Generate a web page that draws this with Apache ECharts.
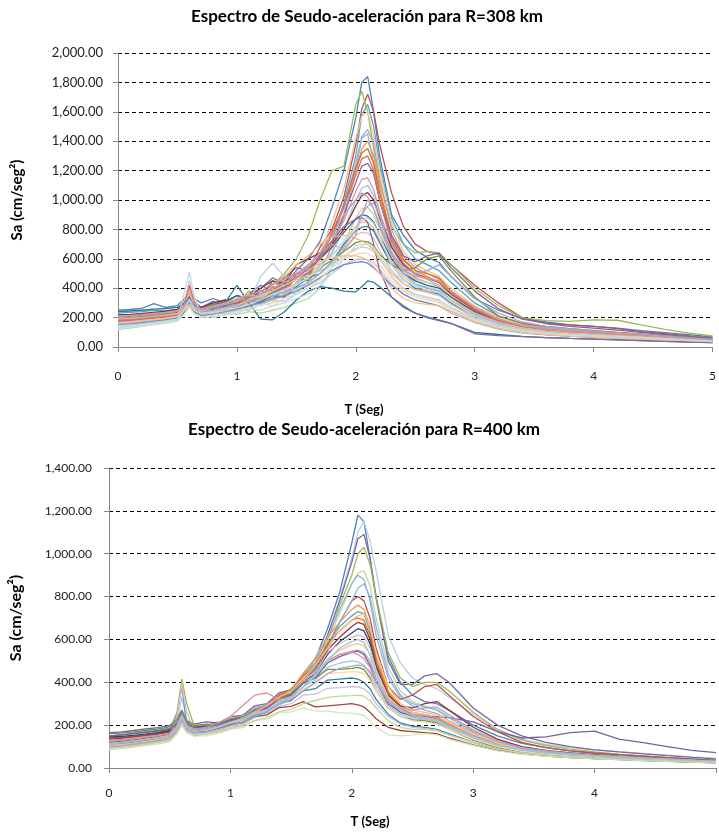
<!DOCTYPE html>
<html>
<head>
<meta charset="utf-8">
<script src="https://cdn.jsdelivr.net/npm/echarts@6/dist/echarts.min.js"></script>
<style>
html,body{margin:0;padding:0;background:#fff;}
#chart{width:719px;height:836px;}
</style>
</head>
<body>
<div id="chart"></div>
<script>
// Period values (s) shared by all records
const T = [0,0.1,0.2,0.3,0.4,0.5, 0.56,0.6,0.64,0.7, 0.8,0.9,1.0,1.1,1.2,1.3,1.4,1.5,1.6,1.7,1.8,1.9, 2.0,2.05,2.1,2.15,2.2, 2.3,2.4,2.5,2.6,2.7,2.8, 3.0,3.2,3.4,3.6,3.8,4.0,4.2,4.4,4.6,4.8,5.0];

// ---- R = 308 km ----
const r308a = [250,255,262,295,270,282, 330,400,330,300, 330,300,350,330,400,470,430,520,600,720,950,1200, 1560,1800,1840,1600,1300, 900,760,660,610,575,480, 330,250,195,170,150,140,128,112,98,84,68];
const r308b = [200,205,215,222,230,245, 290,340,300,270, 290,320,280,350,330,450,400,500,520,680,800,1020, 1380,1620,1720,1600,1380, 1050,820,700,650,630,560, 420,300,200,160,150,140,125,105,90,75,60];
const r308c = [180,185,200,210,220,240, 300,360,300,260, 260,310,300,380,340,420,500,600,760,1000,1200,1230, 1650,1740,1600,1350,1120, 820,700,640,650,640,560, 400,280,200,180,175,185,182,150,120,95,75];
const r308d = [230,235,240,250,248,255, 280,310,270,250, 300,260,330,300,380,360,440,400,520,610,720,980, 1300,1580,1650,1500,1250, 880,700,600,560,520,440, 300,210,160,130,115,105,95,85,75,62,52];
const r308e = [170,180,190,200,210,230, 300,380,290,240, 240,280,270,340,300,380,360,480,540,640,850,1080, 1420,1570,1600,1430,1200, 850,650,560,520,480,400, 280,200,160,140,125,115,100,90,80,68,56];
const r308f = [160,170,178,190,200,215, 290,420,300,240, 280,250,300,290,350,330,410,460,480,620,760,940, 1250,1430,1480,1380,1150, 800,620,540,500,460,380, 270,190,150,130,115,105,95,85,75,63,52];
const r308g = [150,158,165,175,185,200, 250,300,250,220, 230,270,250,300,360,320,350,440,500,520,680,880, 1180,1350,1400,1300,1080, 760,600,520,480,440,360, 250,180,140,120,105,95,85,75,65,55,45];
const r308h = [140,150,160,170,180,195, 300,450,320,230, 250,230,280,320,290,400,380,420,560,560,640,900, 1200,1420,1450,1250,1000, 700,560,490,460,420,340, 230,170,130,110,95,88,80,72,62,52,42];
const r308i = [190,195,205,215,225,235, 280,330,280,260, 270,300,290,330,310,370,450,480,470,630,780,960, 1220,1320,1350,1250,1050, 740,590,520,500,470,380, 260,180,140,120,105,95,85,75,66,56,47];
const r308j = [210,212,220,230,240,255, 320,380,310,270, 310,280,330,360,420,380,470,540,520,600,700,900, 1120,1230,1250,1180,1000, 760,620,580,620,640,540, 380,260,190,160,140,128,115,100,85,72,58];
const r308k = [165,172,182,192,200,212, 260,310,260,230, 260,240,300,280,330,400,360,480,560,620,720,860, 1060,1140,1150,1070,920, 680,540,470,440,410,340, 230,170,130,110,97,88,80,72,63,54,45];
const r308l = [145,152,162,172,182,198, 280,350,270,220, 220,260,240,310,280,330,380,360,450,560,640,800, 1000,1080,1100,1030,880, 650,520,450,420,390,320, 220,160,125,105,92,84,76,68,60,51,43];
const r308m = [220,222,228,236,244,255, 300,340,290,270, 300,320,290,350,400,450,430,560,600,640,700,800, 960,1030,1050,1000,880, 680,560,500,470,440,360, 250,175,135,115,100,90,80,72,63,54,45];
const r308n = [130,138,148,158,168,182, 240,290,240,210, 210,230,220,240,230,250,270,300,330,400,540,700, 880,940,950,900,800, 620,520,460,440,420,350, 240,170,130,110,96,86,78,70,61,52,43];
const r308o = [200,205,212,220,230,245, 290,320,290,260, 280,310,350,330,380,420,480,460,540,600,680,780, 870,900,890,850,760, 600,500,450,420,400,340, 240,170,135,115,100,90,80,72,63,54,45];
const r308p = [185,190,198,206,215,228, 300,410,300,250, 240,270,260,300,350,310,390,420,460,580,620,720, 820,850,845,810,730, 580,480,420,400,380,320, 225,165,128,108,95,86,78,70,61,52,44];
const r308q = [175,180,188,196,205,218, 260,300,250,230, 260,240,280,270,310,350,340,410,470,500,580,700, 790,815,820,790,710, 560,460,400,380,360,300, 210,150,120,100,88,80,72,65,57,49,41];
const r308r = [155,162,172,182,192,205, 290,380,280,230, 230,250,270,260,300,320,360,400,430,500,560,660, 760,780,775,740,660, 520,430,390,370,350,290, 200,150,118,100,88,80,72,65,57,49,41];
const r308s = [195,198,205,214,222,234, 280,320,270,250, 290,270,310,340,320,370,420,480,450,540,590,650, 710,720,715,690,630, 560,520,540,600,620,520, 340,210,160,140,125,112,100,88,76,64,52];
const r308t = [120,128,140,152,162,176, 230,280,230,200, 212,228,250,300,480,570,480,460,480,520,560,620, 670,680,675,650,600, 480,400,360,340,320,270, 190,140,110,92,80,72,65,58,51,44,37];
const r308u = [140,146,155,165,175,188, 320,440,320,240, 220,240,230,270,300,280,330,390,420,480,540,600, 630,640,635,610,560, 450,380,340,320,300,250, 180,130,100,85,75,68,62,56,50,44,38];
const r308v = [170,175,182,190,198,210, 260,300,250,230, 240,220,260,250,290,320,310,360,400,440,500,560, 595,600,595,575,530, 430,360,320,300,280,230, 165,120,95,82,72,66,60,54,48,42,36];
const r308w = [240,245,250,258,262,270, 300,330,285,268, 260,300,420,300,190,185,240,320,380,410,400,380, 375,410,450,440,410, 340,280,230,200,180,160, 100,85,72,64,58,53,48,43,38,34,30];
const r308x = [185,190,196,205,214,226, 270,310,260,240, 250,280,270,320,300,360,410,470,500,620,720,820, 870,880,850,700,520, 340,270,230,205,185,160, 90,78,70,64,58,53,48,43,38,34,30];
const r308y = [175,180,190,198,207,220, 300,420,310,250, 270,250,310,300,360,410,390,470,540,600,760,960, 1170,1280,1300,1200,1000, 720,570,500,470,440,370, 255,180,140,118,102,92,83,74,65,56,47];
const r308z = [135,142,150,160,170,184, 380,510,350,220, 200,215,230,260,250,280,300,330,360,420,500,600, 690,700,695,670,620, 520,450,420,410,390,320, 220,160,125,105,92,83,75,67,59,51,43];
const r308aa = [160,165,172,180,190,205, 270,330,270,240, 250,270,290,310,330,350,370,400,440,500,580,680, 800,900,960,980,900, 640,500,430,400,380,320, 220,160,125,105,93,84,76,68,60,52,44];
const r308ab = [190,194,200,208,216,228, 270,300,265,245, 270,300,330,360,340,420,480,560,620,700,750,760, 740,720,700,660,600, 500,430,390,380,370,320, 230,170,132,110,96,86,78,70,61,52,44];
const r308ac = [210,214,220,228,236,248, 285,320,280,260, 280,300,320,350,380,430,460,500,560,640,700,660, 760,900,1000,940,820, 620,520,480,470,450,380, 270,190,145,122,106,95,86,77,67,57,48];
const r308ad = [150,156,164,174,184,196, 240,300,240,215, 225,240,258,280,300,330,350,380,420,470,520,560, 575,580,570,540,500, 420,360,320,300,280,240, 170,125,98,84,74,67,61,55,49,43,37];
const r308ae = [128,134,142,152,162,175, 225,270,225,205, 210,225,242,262,285,300,330,360,400,460,540,620, 660,690,700,680,620, 470,390,350,330,310,260, 185,135,105,90,80,72,65,58,51,44,37];
const r308af = [200,205,212,220,230,242, 280,330,280,255, 270,290,310,330,360,400,440,480,540,640,760,900, 1000,1050,1020,940,840, 640,540,500,520,560,480, 330,230,170,140,124,110,98,86,74,62,50];
const r308ag = [165,170,178,186,194,206, 250,290,250,228, 240,260,280,320,350,380,420,460,520,580,610,620, 620,610,590,550,500, 400,330,300,290,280,240, 170,125,98,84,74,67,61,55,49,43,37];
const r308ah = [145,150,158,168,178,190, 260,320,255,225, 232,248,268,290,320,360,390,420,470,540,620,720, 800,860,880,840,760, 560,460,410,390,370,310, 210,152,120,100,88,80,72,65,57,49,41];

// ---- R = 400 km ----
const r400a = [150,155,160,168,175,185, 215,260,210,195, 205,200,230,240,280,290,340,360,440,510,650,820, 1050,1180,1150,980,800, 520,400,340,310,300,270, 200,150,115,95,80,70,62,55,48,42,36];
const r400b = [120,126,134,142,150,162, 210,330,230,190, 190,215,210,250,260,300,310,370,410,520,610,790, 980,1100,1150,1060,920, 620,490,420,390,370,330, 250,180,135,110,95,85,76,68,60,52,45];
const r400c = [165,168,175,182,188,198, 230,270,220,205, 215,210,240,245,290,300,350,365,430,490,620,780, 960,1070,1090,980,790, 500,390,390,430,440,400, 280,200,150,120,100,85,75,66,58,50,43];
const r400d = [140,144,150,158,165,178, 260,415,300,200, 185,205,210,245,255,300,310,370,415,510,590,760, 900,1000,1030,950,800, 540,420,380,400,400,360, 260,180,130,105,88,75,65,56,48,40,33];
const r400e = [110,115,122,130,138,150, 190,240,200,180, 180,190,215,220,260,265,310,330,410,470,590,720, 860,910,920,850,700, 470,360,310,290,275,240, 180,130,100,82,70,62,55,49,43,38,33];
const r400f = [130,135,142,150,158,170, 210,260,210,192, 200,205,225,240,280,295,335,365,430,490,610,740, 860,900,880,780,620, 420,330,290,270,255,220, 165,120,92,78,67,60,54,48,42,37,32];
const r400g = [120,124,130,138,145,156, 195,245,200,182, 185,195,220,230,265,285,325,345,410,460,570,680, 780,800,780,700,560, 380,320,340,380,390,340, 240,170,120,95,80,70,62,55,48,41,35];
const r400h = [100,104,110,118,126,138, 180,230,185,168, 170,185,210,225,270,280,340,360,440,510,610,680, 740,760,740,660,520, 360,290,260,250,240,210, 160,115,88,73,63,56,50,45,40,35,30];
const r400i = [125,130,138,146,155,168, 250,380,200,150, 160,185,215,225,265,280,330,350,420,470,580,660, 710,730,720,640,500, 340,280,250,240,230,200, 150,110,85,70,61,54,48,43,38,33,28];
const r400j = [115,120,128,136,144,155, 195,240,195,178, 180,195,220,230,270,290,340,365,430,480,580,640, 690,700,690,620,500, 350,280,250,240,230,200, 150,110,86,72,62,55,49,44,39,34,29];
const r400k = [135,138,145,152,160,172, 205,245,205,190, 195,200,225,235,265,280,325,345,410,450,550,610, 660,680,670,600,480, 340,290,280,300,310,270, 190,135,100,82,70,62,55,49,43,37,32];
const r400l = [145,148,152,158,165,175, 205,240,200,190, 190,200,218,228,262,275,318,340,400,440,530,590, 630,650,640,580,470, 330,270,240,230,220,190, 140,102,80,68,59,52,46,41,36,32,28];
const r400m = [105,110,118,126,134,146, 240,390,260,185, 175,188,208,220,258,275,320,345,410,450,540,580, 610,620,610,560,460, 330,270,240,230,220,190, 140,105,82,69,60,53,47,42,37,33,29];
const r400n = [95,100,108,116,124,136, 175,220,180,165, 168,182,205,218,255,270,315,335,400,430,510,550, 575,580,570,530,450, 330,280,260,250,240,210, 160,120,92,76,66,58,52,46,41,36,31];
const r400o = [130,134,140,148,155,166, 200,240,200,185, 185,198,218,228,262,278,322,340,400,430,500,530, 545,550,540,500,420, 310,260,240,235,225,195, 145,108,84,70,61,54,48,43,38,34,30];
const r400p = [100,105,112,120,128,140, 180,230,185,168, 170,184,205,216,252,268,310,325,380,410,470,490, 500,495,480,440,380, 290,250,230,225,215,190, 140,105,82,69,60,53,47,42,37,33,29];
const r400q = [160,163,168,175,182,192, 225,260,215,200, 200,210,228,236,270,284,328,345,400,420,460,460, 465,470,460,420,360, 280,240,225,220,210,180, 130,95,74,62,54,48,43,38,34,30,26];
const r400r = [90,95,102,110,118,130, 170,215,175,160, 162,176,196,208,242,258,300,315,370,390,440,445, 450,448,440,410,360, 280,240,220,215,205,180, 135,100,78,66,57,51,45,40,36,32,28];
const r400s = [110,114,120,128,135,146, 185,230,190,170, 172,184,202,212,246,260,302,315,360,370,410,415, 420,415,400,370,320, 250,210,195,190,180,160, 120,88,68,58,50,44,39,35,31,27,24];
const r400t = [95,100,106,114,122,133, 170,210,172,158, 160,172,190,202,236,248,288,300,340,345,372,375, 380,378,370,345,300, 240,205,190,185,175,155, 118,88,70,59,52,46,41,37,33,29,26];
const r400u = [140,142,146,152,158,168, 195,225,190,178, 180,188,205,212,240,248,282,288,310,285,290,295, 300,295,285,260,230, 190,175,170,165,160,140, 108,82,66,56,49,44,40,36,32,28,25];
const r400v = [85,90,96,104,112,122, 160,200,165,150, 150,162,180,188,220,228,258,262,280,265,265,258, 255,252,245,220,190, 155,150,155,160,155,135, 105,80,64,55,48,43,39,35,31,27,24];
const r400w = [150,154,160,166,172,180, 210,250,205,190, 192,204,222,232,266,280,322,340,395,420,490,520, 540,545,530,480,400, 300,260,245,240,240,235, 215,170,140,145,165,172,135,118,100,82,72];
const r400x1 = [115,120,126,134,142,152, 190,250,195,175, 180,192,210,226,250,270,300,330,380,440,540,680, 780,840,860,800,660, 440,340,300,285,270,235, 170,124,95,80,68,60,54,48,42,37,32];
const r400x2 = [125,130,136,144,152,162, 200,250,200,180, 190,210,240,290,340,350,320,330,380,430,500,530, 540,530,510,470,400, 310,270,250,245,235,205, 150,112,86,72,62,55,49,44,39,34,30];
const r400x3 = [105,110,116,124,132,144, 185,235,190,172, 176,190,212,232,262,290,330,360,420,480,560,640, 690,710,720,660,540, 380,300,270,260,250,220, 160,116,89,74,64,57,51,45,40,35,30];
const r400x4 = [98,103,110,118,126,137, 175,225,178,162, 168,180,198,214,240,262,295,320,360,400,440,465, 475,480,475,450,400, 320,280,270,280,285,250, 175,125,92,75,64,56,50,45,40,35,31];
const r400x5 = [112,117,124,132,140,151, 190,240,192,172, 178,190,208,224,250,270,305,330,380,430,500,560, 590,600,585,530,440, 320,270,245,235,225,195, 145,108,84,70,61,54,48,43,38,33,29];
const r400x6 = [92,96,102,110,118,128, 165,205,168,154, 158,168,184,196,222,236,262,275,300,315,330,335, 338,340,335,315,280, 220,190,180,180,175,155, 118,88,70,59,52,46,41,37,33,29,26];

const sets308 = [r308a,r308b,r308c,r308d,r308e,r308f,r308g,r308h,r308i,r308j,r308k,r308l,r308m,r308n,r308o,r308p,r308q,r308r,r308s,r308t,r308u,r308v,r308w,r308x,r308y,r308z,r308aa,r308ab,r308ac,r308ad,r308ae,r308af,r308ag,r308ah];
const sets400 = [r400a,r400b,r400c,r400d,r400e,r400f,r400g,r400h,r400i,r400j,r400k,r400l,r400m,r400n,r400o,r400p,r400q,r400r,r400s,r400t,r400u,r400v,r400w,r400x1,r400x2,r400x3,r400x4,r400x5,r400x6];

const colors308 = ['#4F81BD','#C0504D','#9BBB59','#4BACC6','#FAC090','#B3A2C7','#F79646','#95B3D7','#E46C0A','#8064A2','#D99694','#93CDDD','#953735','#C3D69B','#3A5F8C','#F9B88A','#31859C','#E6B9B8','#77933C','#B9CDE5','#FCD5B5','#CCC1DA','#2C7C94','#7F6A9E','#CD7371','#C6D9F1','#8EB4E3','#FAB37A','#DA9694','#6A8FC8','#D7E4BD','#B1A0C7','#FBBF8F','#B7DEE8'];
const colors400 = ['#4F81BD','#B9CDE5','#8064A2','#9BBB59','#C3D69B','#95B3D7','#C0504D','#F79646','#4BACC6','#E46C0A','#953735','#1F497D','#E6B9B8','#FAC090','#B3A2C7','#93CDDD','#77933C','#FCD5B5','#31859C','#CCC1DA','#A5443F','#D7E4BD','#7D5FA0','#8EB4E3','#DA9694','#F9B88A','#B3A2C7','#93CDDD','#C3D69B'];

const FONT = 'Lato, "Open Sans", sans-serif';
const fmtY = v => v.toLocaleString('en-US', {minimumFractionDigits: 2, maximumFractionDigits: 2});

function mkSeries(sets, colors, idx, prefix) {
  return sets.map((arr, k) => ({
    name: prefix + ' ' + (k + 1),
    type: 'line',
    xAxisIndex: idx, yAxisIndex: idx,
    data: T.map((t, i) => [t, arr[i]]),
    symbol: 'none', showSymbol: false, silent: true,
    lineStyle: {width: 1.3, color: colors[k]},
    itemStyle: {color: colors[k]},
    z: 3
  }));
}

function yAxisCfg(idx, max, gap, fs, nfs) {
  return {
    type: 'value', gridIndex: idx, min: 0, max: max, interval: 200,
    name: 'Sa (cm/seg²)', nameLocation: 'middle', nameGap: gap, nameRotate: 90,
    nameTextStyle: {fontFamily: FONT, fontWeight: 'bold', fontSize: nfs, color: '#000'},
    axisLine: {show: true, lineStyle: {color: '#868686', width: 1}},
    axisTick: {show: true, length: 5, inside: false, lineStyle: {color: '#868686'}},
    axisLabel: {formatter: fmtY, fontFamily: FONT, fontSize: fs, color: '#222', margin: fs === 13 ? 15 : 17},
    splitLine: {show: true, lineStyle: {color: '#000', type: [4, 3], width: 1}}
  };
}

function xAxisCfg(idx, margin, hideMax) {
  return {
    type: 'value', gridIndex: idx, min: 0, max: 5, interval: 1,
    axisLine: {show: true, onZero: false, lineStyle: {color: '#868686', width: 1}},
    axisTick: {show: true, length: 5, lineStyle: {color: '#868686'}},
    axisLabel: {fontFamily: FONT, fontSize: 12, color: '#222', margin: margin,
      formatter: v => (hideMax && v === 5) ? '' : String(v)},
    splitLine: {show: false}
  };
}

const chart = echarts.init(document.getElementById('chart'), null, {renderer: 'canvas'});
chart.setOption({
  animation: false,
  backgroundColor: '#fff',
  grid: [
    {left: 118, top: 53, width: 599, height: 294},
    {left: 107, top: 468, width: 614, height: 300}
  ],
  xAxis: [xAxisCfg(0, 23, false), xAxisCfg(1, 19, true)],
  yAxis: [yAxisCfg(0, 2000, 93, 13, 15), yAxisCfg(1, 1400, 85, 12, 16)],
  graphic: [
    {type: 'text', x: 367, y: 17, style: {text: 'Espectro de Seudo-aceleración para R=308 km', font: 'bold 17px ' + FONT, fill: '#000', textAlign: 'center', textVerticalAlign: 'middle'}},
    {type: 'text', x: 364, y: 410, style: {text: 'T (Seg)', font: 'bold 13px ' + FONT, fill: '#000', textAlign: 'center', textVerticalAlign: 'middle'}},
    {type: 'text', x: 364, y: 430, style: {text: 'Espectro de Seudo-aceleración para R=400 km', font: 'bold 17px ' + FONT, fill: '#000', textAlign: 'center', textVerticalAlign: 'middle'}},
    {type: 'text', x: 370, y: 822, style: {text: 'T (Seg)', font: 'bold 13px ' + FONT, fill: '#000', textAlign: 'center', textVerticalAlign: 'middle'}}
  ],
  series: mkSeries(sets308, colors308, 0, 'R308').concat(mkSeries(sets400, colors400, 1, 'R400'))
});
</script>
</body>
</html>
